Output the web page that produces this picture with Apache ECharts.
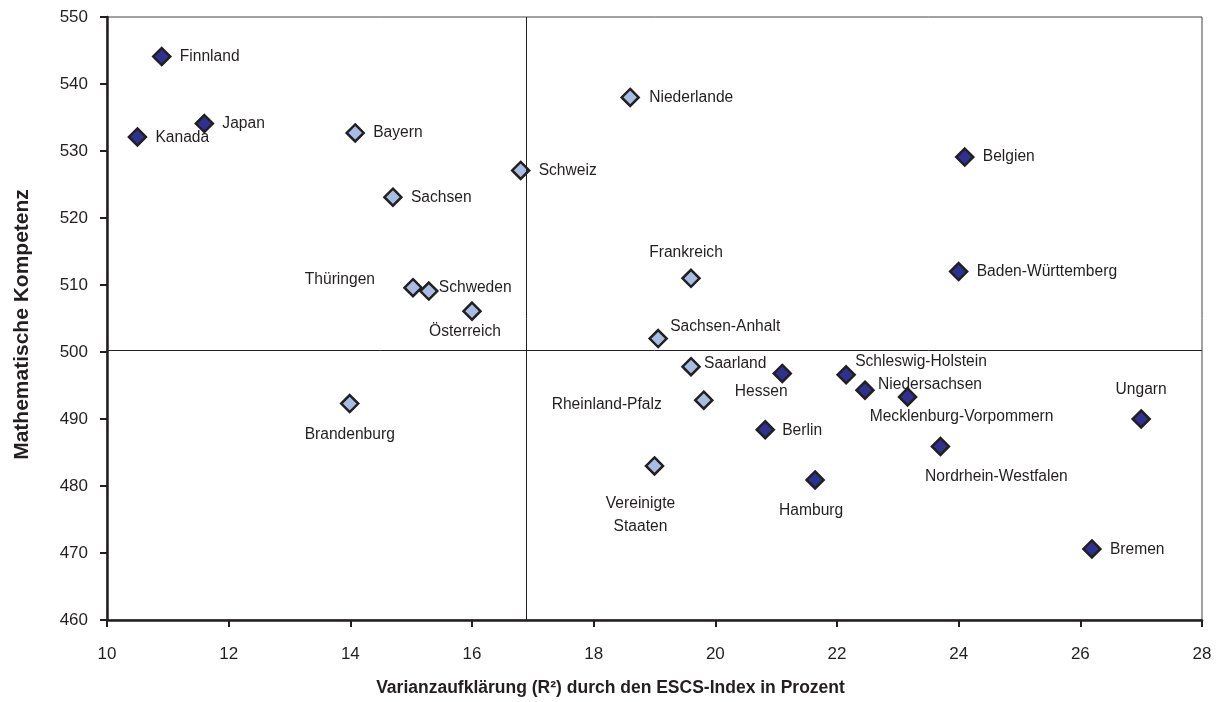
<!DOCTYPE html>
<html>
<head>
<meta charset="utf-8">
<script src="https://cdn.jsdelivr.net/npm/echarts@6/dist/echarts.min.js"></script>
<style>
  html, body { margin: 0; padding: 0; background: #fff; }
  #chart { width: 1218px; height: 702px; }
</style>
</head>
<body>
<div id="chart"></div>
<script>
// Länder / Bundesländer, dunkle Rauten
const darkNames = ['Finnland', 'Japan', 'Kanada', 'Belgien', 'Baden-Württemberg', 'Hessen',
  'Schleswig-Holstein', 'Niedersachsen', 'Mecklenburg-Vorpommern', 'Ungarn', 'Berlin',
  'Nordrhein-Westfalen', 'Hamburg', 'Bremen']
const darkX = [10.9, 11.6, 10.5, 24.1, 24.0, 21.1, 22.15, 22.46, 23.16, 27.0, 20.82, 23.7, 21.64, 26.19]
const darkY = [544.1, 534.1, 532.1, 529.1, 512.0, 496.8, 496.6, 494.3, 493.3, 490.0, 488.4, 485.9, 480.9, 470.6]

// helle Rauten
const lightNames = ['Niederlande', 'Bayern', 'Schweiz', 'Sachsen', 'Thüringen', 'Schweden',
  'Österreich', 'Frankreich', 'Sachsen-Anhalt', 'Saarland', 'Rheinland-Pfalz', 'Brandenburg',
  'Vereinigte Staaten']
const lightX = [18.6, 14.08, 16.8, 14.7, 15.03, 15.29, 16.0, 19.6, 19.06, 19.6, 19.81, 13.99, 19.0]
const lightY = [538.0, 532.7, 527.1, 523.1, 509.6, 509.1, 506.1, 511.0, 502.0, 497.8, 492.8, 492.3, 483.0]

// Trennlinien (Mittelwerte)
const meanX = 16.9
const meanY = 500.2

const xTicks = { min: 10, max: 28, interval: 2 }
const yTicks = { min: 460, max: 550, interval: 10 }

// Beschriftungsposition relativ zur Raute: [align, dx, dy]
const labelLayout = {
  'Finnland': ['left', 18, 0],
  'Japan': ['left', 18, 0],
  'Kanada': ['left', 18, 1],
  'Bayern': ['left', 18, 0],
  'Belgien': ['left', 18, 0],
  'Baden-Württemberg': ['left', 18, 0],
  'Niederlande': ['left', 19, 0],
  'Schweiz': ['left', 18, 0],
  'Sachsen': ['left', 18, 0],
  'Bremen': ['left', 18, 1],
  'Berlin': ['left', 17, 1],
  'Thüringen': ['right', -38, -8],
  'Schweden': ['left', 10, -3],
  'Österreich': ['center', -7, 21],
  'Frankreich': ['center', -5, -26],
  'Sachsen-Anhalt': ['left', 12, -12],
  'Saarland': ['left', 13, -3],
  'Rheinland-Pfalz': ['right', -42, 4],
  'Hessen': ['center', -21, 18],
  'Schleswig-Holstein': ['left', 9, -13],
  'Niedersachsen': ['left', 13, -6],
  'Mecklenburg-Vorpommern': ['center', 54, 20],
  'Ungarn': ['center', 0, -29],
  'Nordrhein-Westfalen': ['center', 56, 30],
  'Hamburg': ['center', -4, 31],
  'Vereinigte Staaten': ['center', -14, 49],
  'Brandenburg': ['center', 0, 31]
}

const FONT = 'Liberation Sans, Arial, sans-serif'
const INK = '#231f20'

function buildData (names, xs, ys) {
  return names.map((n, i) => {
    const l = labelLayout[n] || ['left', 18, 0]
    return {
      name: n,
      value: [xs[i], ys[i]],
      label: { align: l[0], offset: [l[1], l[2]] }
    }
  })
}

const labelStyle = {
  show: true,
  position: 'inside',
  verticalAlign: 'middle',
  color: INK,
  fontFamily: FONT,
  fontSize: 15.6,
  lineHeight: 23,
  formatter: (p) => p.name === 'Vereinigte Staaten' ? 'Vereinigte\nStaaten' : p.name
}

const chart = echarts.init(document.getElementById('chart'))
const option = {
  animation: false,
  backgroundColor: '#fff',
  textStyle: { fontFamily: FONT },
  grid: {
    left: 107, right: 16, top: 17, bottom: 79,
    show: true, borderColor: '#444', borderWidth: 1
  },
  xAxis: {
    type: 'value',
    min: xTicks.min, max: xTicks.max, interval: xTicks.interval,
    name: 'Varianzaufklärung (R²) durch den ESCS-Index in Prozent',
    nameLocation: 'middle',
    nameGap: 59,
    nameTextStyle: { fontFamily: FONT, fontWeight: 'bold', fontSize: 17.5, color: INK, padding: [0, 88, 0, 0] },
    axisLine: { show: true, onZero: false, lineStyle: { color: INK, width: 2.5 } },
    axisTick: { show: true, length: 7, lineStyle: { color: INK, width: 2 } },
    axisLabel: { color: INK, fontSize: 17, fontFamily: FONT, margin: 26 },
    splitLine: { show: false }
  },
  yAxis: {
    type: 'value',
    min: yTicks.min, max: yTicks.max, interval: yTicks.interval,
    name: 'Mathematische Kompetenz',
    nameLocation: 'middle',
    nameGap: 74,
    nameTextStyle: { fontFamily: FONT, fontWeight: 'bold', fontSize: 21, color: INK, padding: [0, 12, 0, 0] },
    axisLine: { show: true, onZero: false, lineStyle: { color: INK, width: 2.5 } },
    axisTick: { show: true, length: 7, lineStyle: { color: INK, width: 2 } },
    axisLabel: { color: INK, fontSize: 17, fontFamily: FONT, margin: 19 },
    splitLine: { show: false }
  },
  series: [
    {
      type: 'scatter',
      symbol: 'diamond',
      symbolSize: 17,
      z: 3,
      itemStyle: { color: '#a8bde3', borderColor: INK, borderWidth: 2.5, opacity: 1 },
      label: labelStyle,
      data: buildData(lightNames, lightX, lightY),
      markLine: {
        silent: true,
        symbol: 'none',
        label: { show: false },
        lineStyle: { color: INK, width: 1, type: 'solid', opacity: 1 },
        data: [{ xAxis: meanX }, { yAxis: meanY }]
      }
    },
    {
      type: 'scatter',
      symbol: 'diamond',
      symbolSize: 17,
      z: 3,
      itemStyle: { color: '#2e3192', borderColor: INK, borderWidth: 2.5, opacity: 1 },
      label: labelStyle,
      data: buildData(darkNames, darkX, darkY)
    }
  ]
}
chart.setOption(option)
</script>
</body>
</html>
